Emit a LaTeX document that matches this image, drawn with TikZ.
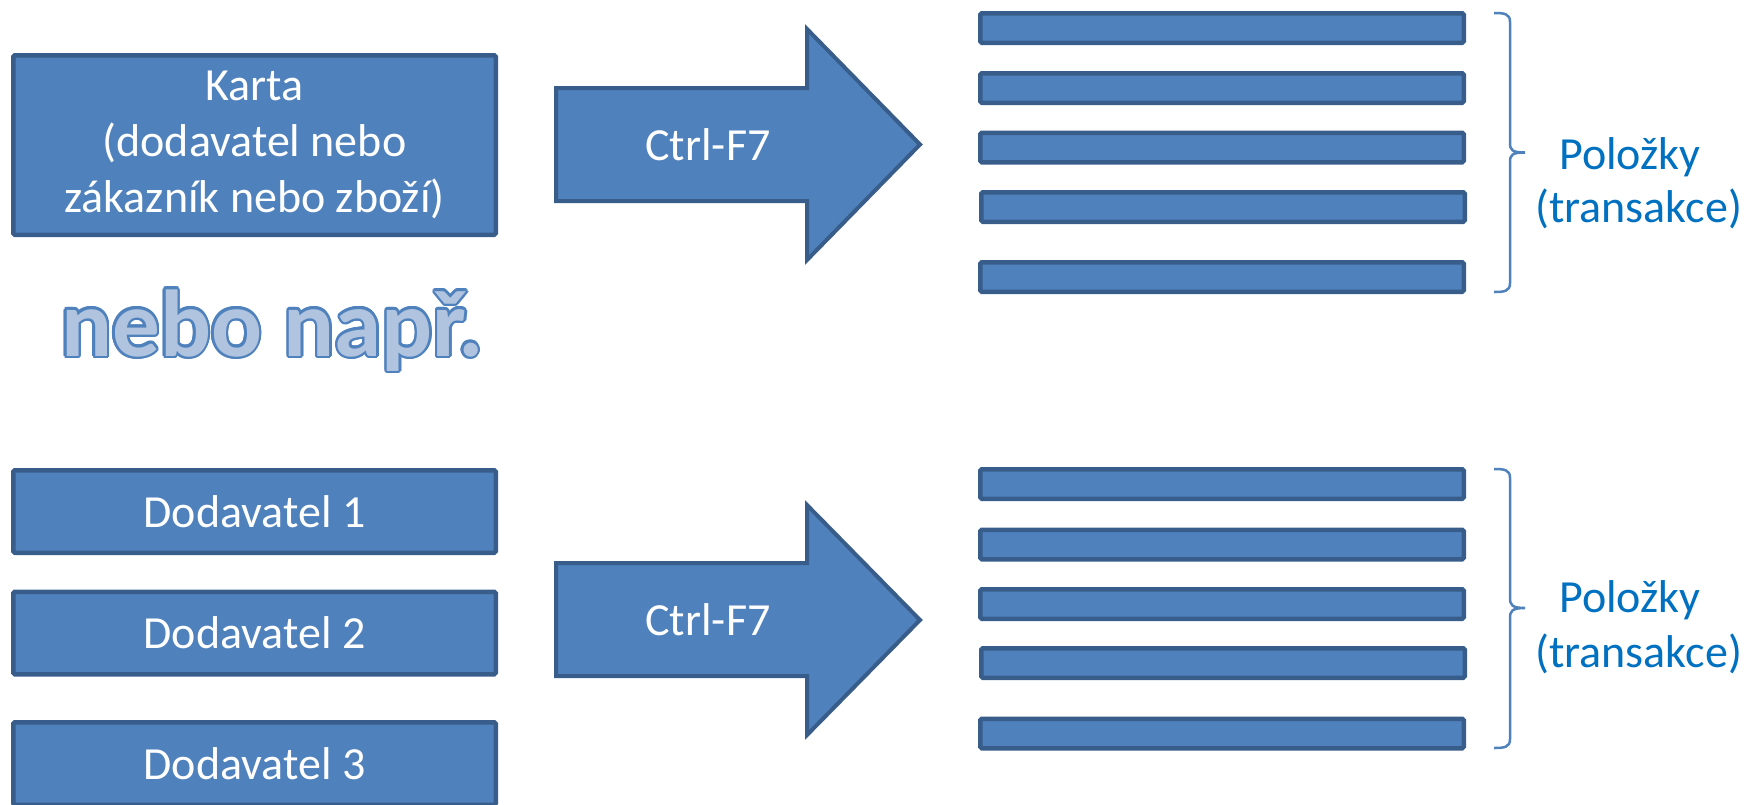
\documentclass[tikz,border=0pt]{standalone}
\usepackage{fontspec}
\setmainfont{Carlito}
\definecolor{bfill}{HTML}{4F81BD}
\definecolor{bline}{HTML}{385D8A}
\definecolor{txtblue}{HTML}{0070C0}
\definecolor{nebofill}{HTML}{B0C4DF}
\begin{document}
\begin{tikzpicture}[x=1pt,y=-1pt,
  box/.style={draw=bline, fill=bfill, line width=4.5pt, rounded corners=1.5pt,
    text=white, font=\fontsize{46}{56}\selectfont, inner sep=0pt,
    minimum width=482.5pt, align=center},
  bar/.style={draw=bline, fill=bfill, line width=4.5pt, rounded corners=1.5pt,
    minimum width=483.5pt, minimum height=29.5pt, inner sep=0pt},
  bigarrow/.style={draw=bline, fill=bfill, line width=4pt, line join=miter},
  arrowtext/.style={text=white, font=\fontsize{46}{56}\selectfont, inner sep=0pt},
  brace/.style={draw=bfill, line width=2.5pt},
  bracetext/.style={text=txtblue, font=\fontsize{46}{56}\selectfont, inner sep=0pt, anchor=base west},
  nebostyle/.style={font=\fontsize{95}{105}\selectfont\bfseries, inner sep=0pt, anchor=base west}
]
\useasboundingbox (0,0) rectangle (1756,804);
\clip (0,0) rectangle (1756,804);

% top row
\node[box, minimum height=179.5pt] (karta) at (254.5,145)
  {Karta\\(dodavatel nebo\\zákazník nebo zboží)};

\draw[bigarrow] (556,88) -- (807,88) -- (807,29) -- (920,144.5) -- (807,260) -- (807,201) -- (556,201) -- cycle;
\node[arrowtext] (ctrl1) at (708,144.5) {Ctrl-F7};

\node[bar] (t1) at (1222,28) {};
\node[bar] (t2) at (1222,88) {};
\node[bar] (t3) at (1222,147.5) {};
\node[bar] (t4) at (1223,207) {};
\node[bar] (t5) at (1222,277) {};

\coordinate (bt1) at (1494,13);
\coordinate (bt2) at (1494,292);
\draw[brace] (bt1) .. controls (1505,13) and (1510,14) .. (1510,22) -- (1510,143)
  .. controls (1510,150) and (1512,152.5) .. (1525,152.5)
  .. controls (1512,152.5) and (1510,155) .. (1510,162) -- (1510,283)
  .. controls (1510,291) and (1505,292) .. (bt2);
\node[bracetext] (pol1) at (1559,169) {Položky};
\node[bracetext] (tr1) at (1535,222) {(transakce)};

% nebo např. (outlined)
\foreach \a in {0,20,...,340}{
  \path (61,356) ++(\a:2.5) node[nebostyle, text=bfill] {nebo např.};
}
\node[nebostyle, text=nebofill] (nebo) at (61,356) {nebo např.};

% bottom row
\node[box, minimum height=82.5pt] (d1) at (254.5,511.5) {Dodavatel 1};
\node[box, minimum height=82.5pt] (d2) at (254.5,633) {Dodavatel 2};
\node[box, minimum height=82.5pt] (d3) at (254.5,763.5) {Dodavatel 3};

\draw[bigarrow] (556,563) -- (807,563) -- (807,505) -- (920,620) -- (807,735) -- (807,676) -- (556,676) -- cycle;
\node[arrowtext] (ctrl2) at (708,619.5) {Ctrl-F7};

\node[bar] (b1) at (1222,484) {};
\node[bar] (b2) at (1222,544.5) {};
\node[bar] (b3) at (1222,604) {};
\node[bar] (b4) at (1223,663) {};
\node[bar] (b5) at (1222,733.5) {};

\coordinate (bb1) at (1494,469);
\coordinate (bb2) at (1494,748);
\draw[brace] (bb1) .. controls (1505,469) and (1510,470) .. (1510,478) -- (1510,598)
  .. controls (1510,605) and (1512,608) .. (1525,608)
  .. controls (1512,608) and (1510,611) .. (1510,618) -- (1510,739)
  .. controls (1510,747) and (1505,748) .. (bb2);
\node[bracetext] (pol2) at (1559,612) {Položky};
\node[bracetext] (tr2) at (1535,667) {(transakce)};
\end{tikzpicture}
\end{document}
